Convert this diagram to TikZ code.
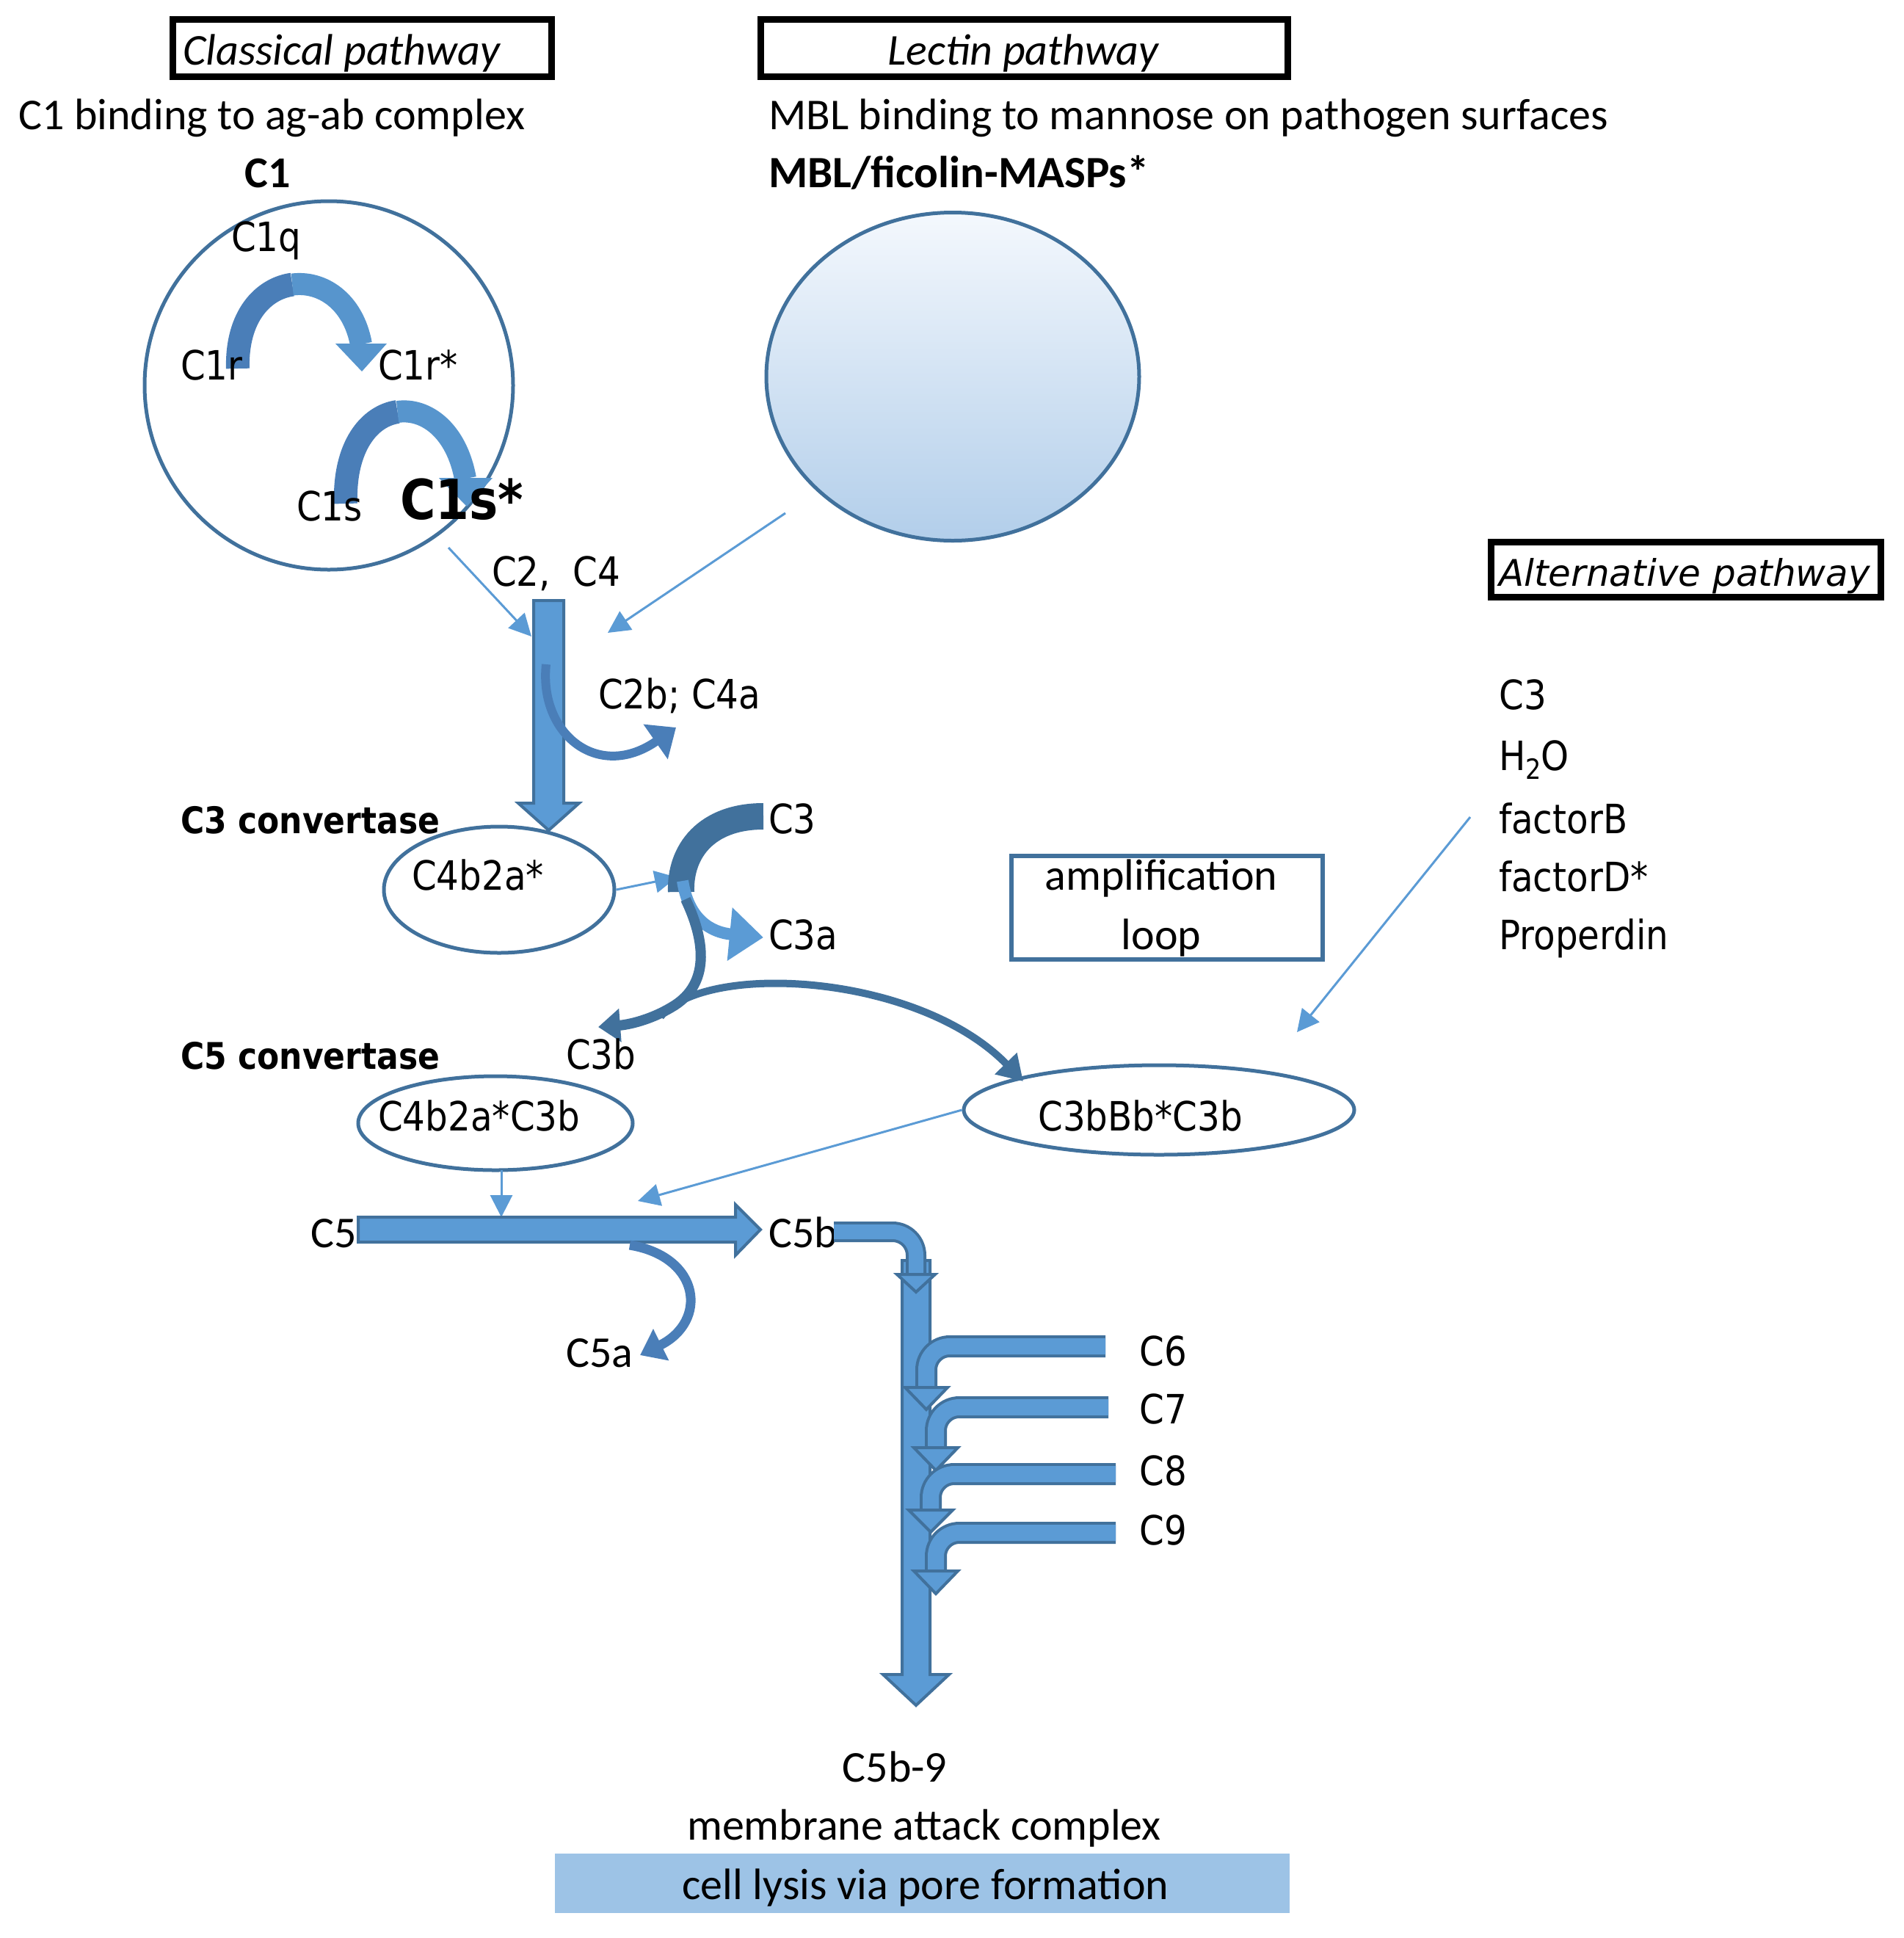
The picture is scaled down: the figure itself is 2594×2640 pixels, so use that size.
\documentclass[tikz,border=0pt]{standalone}
\usepackage{fontspec}
\setmainfont{Carlito}
\newfontfamily\tahfont[FakeStretch=0.88]{DejaVu Sans}
\newfontfamily\verdfont{DejaVu Sans}
\usetikzlibrary{shapes.geometric,arrows.meta}
\definecolor{dk}{HTML}{41719C}
\definecolor{lt}{HTML}{5B9BD5}
\definecolor{mid}{HTML}{4A7EB8}
\definecolor{lysis}{HTML}{9DC3E6}
\definecolor{lecttop}{HTML}{F4F8FD}
\definecolor{lectbot}{HTML}{B2CEEA}
\newcommand\fsz[1]{\fontsize{#1}{#1}\selectfont}
\begin{document}
\begin{tikzpicture}[x=1pt,y=-1pt,
  caltxt/.style={inner sep=0pt, font=\fsz{60}},
  tahtxt/.style={inner sep=0pt, font=\tahfont\fsz{55}},
  titlebox/.style={draw=black, line width=9pt, inner sep=0pt},
  ell/.style={ellipse, draw=dk, line width=5pt, inner sep=0pt},
  thinarrow/.style={draw=lt, line width=3pt, -{Triangle[length=30pt,width=30pt]}},
  block/.style={fill=lt, draw=dk, line width=4pt, line join=miter},
  band/.style={draw=dk, line width=4pt, double=lt, double distance=22pt, rounded corners=32pt},
  headtri/.style={fill=lt, draw=dk, line width=4pt, line join=miter}
]
\useasboundingbox[fill=white] (0,0) rectangle (2594,2640);

% ---------- title boxes ----------
\node[titlebox, minimum width=516pt, minimum height=78pt] (cbox) at (493.5,65.5) {};
\node[caltxt, anchor=base west, font=\fsz{60}\itshape] (ctitle) at (249,88) {Classical pathway};
\node[titlebox, minimum width=718pt, minimum height=78pt] (lbox) at (1395.5,65.5) {};
\node[caltxt, anchor=base, font=\fsz{60}\itshape] (ltitle) at (1394,88) {Lectin pathway};
\node[titlebox, minimum width=531pt, minimum height=75pt] (abox) at (2297,776) {};
\node[inner sep=0pt, anchor=base west, font=\verdfont\itshape\fsz{50}] (atitle) at (2042,798) {Alternative pathway};

% ---------- top texts ----------
\node[caltxt, anchor=base west] (c1bind) at (25,176) {C1 binding to ag-ab complex};
\node[caltxt, anchor=base west] (mblbind) at (1047,176) {MBL binding to mannose on pathogen surfaces};
\node[caltxt, anchor=base, font=\fsz{60}\bfseries] (c1lab) at (365,255) {C1};
\node[caltxt, anchor=base west, font=\fsz{61}\bfseries] (mbllab) at (1047,255) {MBL/ficolin-MASPs*};

% ---------- classical C1 circle ----------
\node[circle, draw=dk, line width=5pt, minimum size=502pt, inner sep=0pt] (c1circ) at (448,525) {};
% curved arrow C1r -> C1r*
\draw[mid, line width=32pt] (324,502) .. controls (322,431) and (358.5,393) .. (398.25,387.6);
\draw[lt!85!dk, line width=30pt] (398.25,387.6) .. controls (438,382.25) and (481,409.5) .. (492,469);
\fill[lt!85!dk] (457,468) -- (527,468) -- (493,506) -- cycle;
% curved arrow C1s -> C1s*
\draw[mid, line width=32pt] (471,686) .. controls (468.5,608) and (503.25,566.5) .. (541.6,561);
\draw[lt!85!dk, line width=30pt] (541.6,561) .. controls (580,555.5) and (622,586) .. (634,652);
\fill[lt!85!dk] (598,651) -- (671,651) -- (636,690) -- cycle;

\node[tahtxt, anchor=base west] (c1q) at (315,342) {C1q};
\node[tahtxt, anchor=base west] (c1r) at (246,517) {C1r};
\node[tahtxt, anchor=base west] (c1rs) at (515,517) {C1r*};
\node[tahtxt, anchor=base west] (c1s) at (404,709) {C1s};
\node[tahtxt, anchor=base west, font=\tahfont\bfseries\fsz{75}] (c1ss) at (545,707) {C1s*};

% ---------- lectin circle ----------
\node[ell, minimum width=508pt, minimum height=447pt, top color=lecttop, bottom color=lectbot] (lect) at (1298,513) {};

% ---------- convergence ----------
\coordinate (c1out) at (611,746);
\coordinate (c1in) at (724,867);
\coordinate (lout) at (1070,699);
\coordinate (lin) at (828,862);
\draw[thinarrow] (c1out) -- (c1in);
\draw[thinarrow] (lout) -- (lin);

\node[tahtxt, anchor=base west] (c2c4) at (670,798) {C2,~~C4};

% big vertical arrow
\draw[block] (727,818) -- (768,818) -- (768,1094) -- (789,1094) -- (747.5,1131) -- (706,1094) -- (727,1094) -- cycle;
% C2b;C4a release
\draw[mid, line width=12pt, -{Triangle[length=34pt,width=56pt]}] (744,905) .. controls (734,1000) and (815,1065) .. (921,991);
\node[tahtxt, anchor=base west] (c2b) at (815,965) {C2b; C4a};

% ---------- C3 convertase ----------
\node[inner sep=0pt, anchor=base west, font=\tahfont\bfseries\fsz{50}] (c3conv) at (246,1135) {C3 convertase};
\node[ell, minimum width=314pt, minimum height=172pt] (c4b2a) at (680,1212) {};
\node[tahtxt, anchor=base west] (c4b2atxt) at (561,1212) {C4b2a*};
\coordinate (c3hit) at (922,1195);
\draw[thinarrow] (c4b2a.east) -- (c3hit);

% C3 cleavage curves
\draw[dk, line width=36pt] (1040,1112) .. controls (962,1112) and (926,1160) .. (928,1215);
\draw[lt, line width=16pt, -{Triangle[length=46pt,width=70pt]}] (930,1200) .. controls (938,1252) and (968,1270) .. (1040,1277);
\draw[dk, line width=14pt, -{Triangle[length=30pt,width=44pt]}] (934,1225) .. controls (966,1292) and (962,1345) .. (915,1372) .. controls (885,1390) and (855,1396) .. (815,1399);
\draw[dk, line width=10pt, -{Triangle[length=34pt,width=40pt]}] (900,1385) .. controls (960,1310) and (1250,1325) .. (1394,1473);

\node[tahtxt, anchor=base west] (c3) at (1047,1135) {C3};
\node[tahtxt, anchor=base west] (c3a) at (1047,1293) {C3a};
\node[tahtxt, anchor=base west] (c3b) at (771,1456) {C3b};

% amplification loop
\node[draw=dk, line width=6pt, minimum width=424pt, minimum height=141pt, inner sep=0pt] (amp) at (1590,1236.5) {};
\node[caltxt, anchor=base] (amp1) at (1582,1212) {amplification};
\node[caltxt, anchor=base] (amp2) at (1582,1293) {loop};

% ---------- alternative pathway list ----------
\node[tahtxt, anchor=base west] (alt1) at (2042,966) {C3};
\node[tahtxt, anchor=base west] (alt2) at (2042,1049) {H\raisebox{-0.22em}{\fsz{38}2}O};
\node[tahtxt, anchor=base west] (alt3) at (2042,1135) {factorB};
\node[tahtxt, anchor=base west] (alt4) at (2042,1214) {factorD*};
\node[tahtxt, anchor=base west] (alt5) at (2042,1293) {Properdin};
\coordinate (altout) at (2003,1113);
\coordinate (altin) at (1767,1406);
\draw[thinarrow] (altout) -- (altin);

% ---------- C5 convertase ----------
\node[inner sep=0pt, anchor=base west, font=\tahfont\bfseries\fsz{50}] (c5conv) at (246,1456) {C5 convertase};
\node[ell, minimum width=374pt, minimum height=128pt] (c4b2ac3b) at (675,1530) {};
\node[tahtxt, anchor=base west] (c4b2ac3btxt) at (515,1540) {C4b2a*C3b};
\node[ell, minimum width=532pt, minimum height=122pt] (c3bbb) at (1579,1512) {};
\node[tahtxt, anchor=base west] (c3bbbtxt) at (1414,1540) {C3bBb*C3b};

\coordinate (c5top) at (683,1594);
\coordinate (c5hit) at (683,1658);
\draw[thinarrow] (c5top) -- (c5hit);
\coordinate (c5hit2) at (869,1636);
\draw[thinarrow] (c3bbb.west) -- (c5hit2);

% C5 horizontal arrow
\draw[block] (488,1658) -- (1002,1658) -- (1002,1641) -- (1036,1675) -- (1002,1710) -- (1002,1692) -- (488,1692) -- cycle;
\draw[mid, line width=13pt, -{Triangle[length=32pt,width=46pt]}] (858,1696) .. controls (955,1712) and (965,1800) .. (872,1846);
\node[caltxt, anchor=base east] (c5) at (486,1699) {C5};
\node[caltxt, anchor=base west] (c5b) at (1047,1699) {C5b};
\node[caltxt, anchor=base west] (c5a) at (771,1862) {C5a};

% ---------- terminal pathway ----------
\draw[block] (1229,1717) -- (1267,1717) -- (1267,2281) -- (1293,2281) -- (1248,2323) -- (1203,2281) -- (1229,2281) -- cycle;
% C5b bend
\draw[band, double distance=20pt] (1136,1678) -| (1248,1738);
\draw[headtri] (1222,1736) -- (1274,1736) -- (1248,1760) -- cycle;
% C6..C9 bends
\draw[band] (1506,1834) -| (1262,1890);
\draw[headtri] (1233,1890) -- (1291,1890) -- (1262,1920) -- cycle;
\draw[band] (1510,1917) -| (1275,1972);
\draw[headtri] (1245,1972) -- (1305,1972) -- (1275,2003) -- cycle;
\draw[band] (1520,2008) -| (1268,2057);
\draw[headtri] (1238,2057) -- (1298,2057) -- (1268,2087) -- cycle;
\draw[band] (1520,2088) -| (1275,2140);
\draw[headtri] (1245,2140) -- (1305,2140) -- (1275,2171) -- cycle;

\node[tahtxt, anchor=base west] (c6) at (1552,1860) {C6};
\node[tahtxt, anchor=base west] (c7) at (1552,1939) {C7};
\node[tahtxt, anchor=base west] (c8) at (1552,2023) {C8};
\node[tahtxt, anchor=base west] (c9) at (1552,2104) {C9};

% ---------- MAC ----------
\node[caltxt, anchor=base] (c5b9) at (1219,2427) {C5b-9};
\node[caltxt, anchor=base] (mac) at (1259,2506) {membrane attack complex};
\node[fill=lysis, minimum width=1001pt, minimum height=81pt, inner sep=0pt] (lysisbox) at (1256.5,2565.5) {};
\node[caltxt, anchor=base] (lysistxt) at (1261,2587) {cell lysis via pore formation};
\end{tikzpicture}
\end{document}
